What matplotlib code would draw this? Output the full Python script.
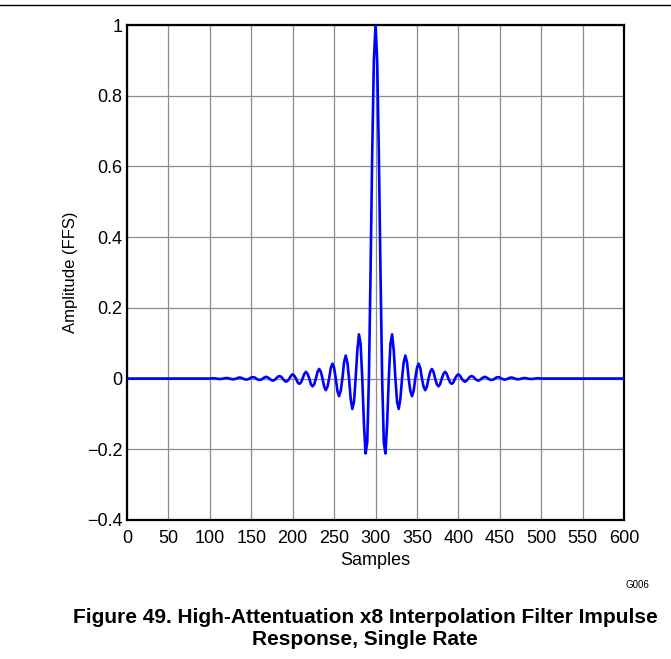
import matplotlib
matplotlib.use("Agg")
import matplotlib.pyplot as plt
import numpy as np

plt.rcParams['font.family'] = ['Liberation Sans', 'DejaVu Sans']

# Impulse response, samples 100..500 in steps of 2
# (outside this range the response is flat at zero)
samples = [0] + list(range(100, 502, 2)) + [600]
amplitude = [0.0,
    0.0, 0.0005, 0.001, 0.0005, 0.0, -0.001, -0.001, -0.001, 0.0, 0.001,
    0.0015, 0.001, 0.0, -0.0015, -0.002, -0.0015, 0.0, 0.002, 0.003, 0.002,
    0.0, -0.002, -0.003, -0.002, 0.0, 0.003, 0.004, 0.003, 0.0, -0.003,
    -0.004, -0.003, 0.0, 0.003, 0.005, 0.003, 0.0, -0.004, -0.006, -0.004,
    0.0, 0.005, 0.007, 0.005, 0.0, -0.006, -0.009, -0.006, 0.0, 0.008,
    0.012, 0.008, 0.0, -0.011, -0.015, -0.011, 0.0, 0.013, 0.019, 0.013,
    0.0, -0.016, -0.022, -0.016, 0.0, 0.019, 0.027, 0.019, 0.0, -0.023,
    -0.033, -0.023, 0.0, 0.030, 0.042, 0.030, 0.0, -0.035, -0.050, -0.035,
    0.0, 0.046, 0.065, 0.046, 0.0, -0.057, -0.086, -0.066, 0.0, 0.079,
    0.125, 0.098, 0.0, -0.128, -0.212, -0.180, 0.0, 0.300, 0.637, 0.900,
    1.0,
    0.900, 0.637, 0.300, 0.0, -0.180, -0.212, -0.128, 0.0, 0.098, 0.125,
    0.079, 0.0, -0.066, -0.086, -0.057, 0.0, 0.046, 0.065, 0.046, 0.0,
    -0.035, -0.050, -0.035, 0.0, 0.030, 0.042, 0.030, 0.0, -0.023, -0.033,
    -0.023, 0.0, 0.019, 0.027, 0.019, 0.0, -0.016, -0.022, -0.016, 0.0,
    0.013, 0.019, 0.013, 0.0, -0.011, -0.015, -0.011, 0.0, 0.008, 0.012,
    0.008, 0.0, -0.006, -0.009, -0.006, 0.0, 0.005, 0.007, 0.005, 0.0,
    -0.004, -0.006, -0.004, 0.0, 0.003, 0.005, 0.003, 0.0, -0.003, -0.004,
    -0.003, 0.0, 0.003, 0.004, 0.003, 0.0, -0.002, -0.003, -0.002, 0.0,
    0.002, 0.003, 0.002, 0.0, -0.0015, -0.002, -0.0015, 0.0, 0.001, 0.0015,
    0.001, 0.0, -0.001, -0.001, -0.001, 0.0, 0.0005, 0.001, 0.0005, 0.0,
    0.0]

x_ticks = list(range(0, 601, 50))
y_ticks = [-0.4, -0.2, 0, 0.2, 0.4, 0.6, 0.8, 1]
y_tick_labels = ['\u22120.4', '\u22120.2', '0', '0.2', '0.4', '0.6', '0.8', '1']

fig = plt.figure(figsize=(6.71, 6.59), dpi=100)
ax = fig.add_axes([0.1893, 0.211, 0.7407, 0.751])

ax.plot(samples, amplitude, color='#0000ff', lw=1.9, zorder=3)

ax.set_xlim(0, 600)
ax.set_ylim(-0.4, 1)
ax.set_xticks(x_ticks)
ax.set_yticks(y_ticks)
ax.set_yticklabels(y_tick_labels)
ax.tick_params(length=0, labelsize=13, colors='black')
ax.tick_params(axis='x', pad=7.5)
ax.tick_params(axis='y', pad=3.5)
ax.grid(True, color='#8c8c8c', lw=0.9)
for s in ax.spines.values():
    s.set_linewidth(1.6)

ax.set_xlabel('Samples', fontsize=13, labelpad=3)
ax.set_ylabel('Amplitude (FFS)', fontsize=12, labelpad=6)

# page rule at the top and figure caption
fig.add_artist(plt.Line2D([0, 1], [0.993, 0.993], color='black', lw=1))
fig.text(0.968, 0.112, 'G006', fontsize=7, ha='right', va='center')
fig.text(0.544, 0.047, 'Figure 49. High-Attentuation x8 Interpolation Filter Impulse\nResponse, Single Rate',
         fontsize=15, fontweight='bold', ha='center', va='center', linespacing=1.2)

fig.savefig('out.png', dpi=100)
